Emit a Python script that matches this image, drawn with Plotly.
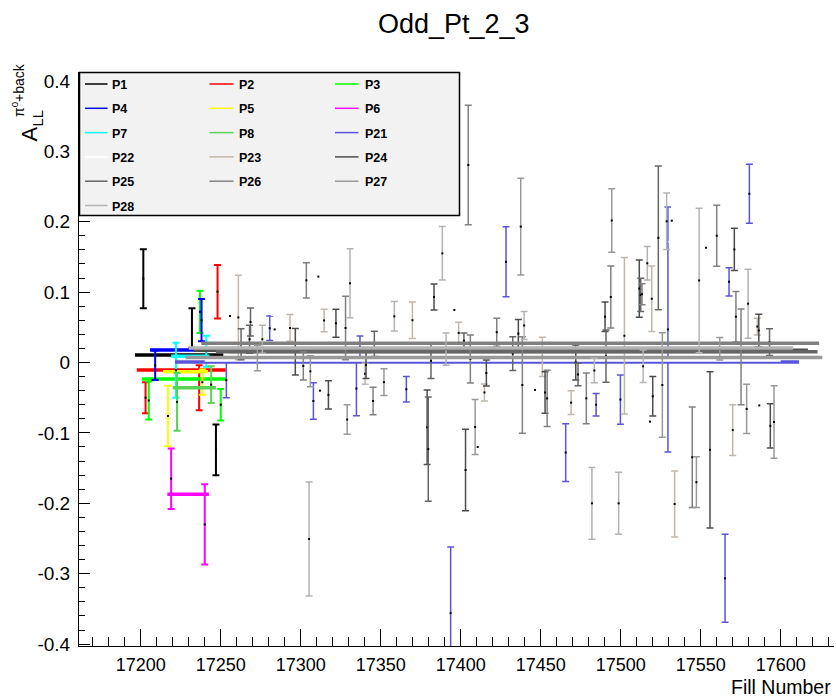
import plotly.graph_objects as go

# ---------------- data ----------------
series_names = ["P1", "P2", "P3", "P4", "P5", "P6", "P7", "P8",
                "P21", "P22", "P23", "P24", "P25", "P26", "P27", "P28"]
series_colors = ["#000000", "#ff0000", "#00ff00", "#0000ff", "#ffff00", "#ff00ff", "#00ffff", "#59d454",
                 "#5954d9", "#ffffff", "#c0b6ac", "#4d4d4d", "#666666", "#808080", "#999999", "#b3b3b3"]

P1_x = [17201.6, 17232.0, 17247.0]
P1_y = [0.119, 0.049, -0.124]
P1_e = [0.042, 0.028, 0.036]

P2_x = [17203.0, 17236.5, 17248.0]
P2_y = [-0.050, -0.036, 0.1006]
P2_e = [0.022, 0.032, 0.038]

P3_x = [17205.0, 17237.0, 17250.0]
P3_y = [-0.054, 0.072, -0.060]
P3_e = [0.027, 0.030, 0.0225]

P4_x = [17209.0, 17238.0]
P4_y = [-0.004, 0.060]
P4_e = [0.021, 0.030]

P5_x = [17217.0, 17238.5]
P5_y = [-0.076, -0.028]
P5_e = [0.043, 0.018]

P6_x = [17219.0, 17240.0]
P6_y = [-0.165, -0.230]
P6_e = [0.043, 0.057]

P7_x = [17222.0, 17241.0]
P7_y = [-0.011, 0.016]
P7_e = [0.039, 0.022]

P8_x = [17222.7, 17244.0]
P8_y = [-0.056, -0.0315]
P8_e = [0.041, 0.026]

P21_x = [17253.5, 17280.6, 17307.9, 17334.8, 17337.0, 17366.0, 17393.7, 17428.3,
         17465.6, 17484.6, 17499.8, 17529.5, 17565.2, 17567.7, 17580.4]
P21_y = [-0.025, 0.0486, -0.0547, -0.037, 0.022, -0.038, -0.356, 0.143,
         -0.128, -0.060, -0.0526, 0.047, -0.3066, 0.1146, 0.2396]
P21_e = [0.025, 0.0175, 0.026, 0.0386, 0.0156, 0.018, 0.094, 0.0497,
         0.041, 0.016, 0.035, 0.174, 0.0625, 0.020, 0.042]

P22_x = [17255.8, 17283.7, 17311.0, 17312.0, 17396.0, 17410.6, 17446.4, 17518.3,
         17531.9, 17553.3, 17586.6]
P22_y = [0.066, 0.047, 0.122, -0.040, 0.0746, -0.120, -0.039, -0.084,
         0.2014, 0.163, -0.061]
P22_e = [0.02, 0.02, 0.03, 0.02, 0.03, 0.03, 0.03, 0.03, 0.03, 0.06, 0.03]

P23_x = [17261.0, 17293.3, 17314.6, 17340.2, 17369.8, 17398.7, 17414.8, 17451.0,
         17469.0, 17502.3, 17519.4, 17533.7, 17570.0, 17585.4]
P23_y = [0.064, 0.049, 0.0597, -0.016, 0.060, 0.042, -0.0426, 0.008,
         -0.057, 0.038, 0.0905, -0.201, -0.096, 0.051]
P23_e = [0.060, 0.019, 0.016, 0.015, 0.026, 0.015, 0.012, 0.028,
         0.0168, 0.111, 0.0466, 0.047, 0.036, 0.012]

P24_x = [17296.6, 17317.3, 17322.0, 17340.8, 17379.0, 17383.3, 17403.0, 17416.0,
         17436.0, 17452.7, 17471.9, 17490.2, 17511.6, 17520.0, 17555.8, 17571.0,
         17586.3, 17593.5]
P24_y = [0.0153, -0.046, 0.0557, -0.0036, -0.092, 0.093, -0.1527, -0.015,
         0.041, -0.0426, 0.000, 0.065, 0.105, -0.048, -0.124, 0.1605,
         0.0455, -0.090]
P24_e = [0.033, 0.020, 0.020, 0.019, 0.053, 0.0185, 0.0578, 0.0185,
         0.020, 0.0296, 0.025, 0.021, 0.0407, 0.028, 0.111, 0.030,
         0.023, 0.0315]

P25_x = [17262.7, 17268.6, 17268.0, 17346.0, 17379.7, 17381.4, 17402.0, 17432.5,
         17473.3, 17490.8, 17512.5, 17523.5, 17593.0]
P25_y = [0.026, 0.0575, 0.033, 0.0265, -0.123, 0.0024, 0.031, 0.0125,
         -0.017, 0.009, 0.096, 0.177, 0.029]
P25_e = [0.022, 0.020, 0.020, 0.018, 0.074, 0.025, 0.011, 0.024,
         0.016, 0.037, 0.0237, 0.102, 0.019]

P26_x = [17301.6, 17303.5, 17328.0, 17345.2, 17404.7, 17406.0, 17422.5, 17438.5,
         17454.0, 17478.5, 17493.8, 17513.3, 17544.7, 17560.0, 17572.0, 17575.2]
P26_y = [-0.005, 0.1167, 0.049, -0.0547, 0.2805, 0.005, 0.043, -0.032,
         -0.051, -0.051, 0.093, 0.097, -0.1346, 0.180, 0.065, 0.008]
P26_e = [0.020, 0.025, 0.045, 0.0195, 0.085, 0.034, 0.020, 0.0686,
         0.040, 0.036, 0.044, 0.015, 0.0714, 0.0433, 0.036, 0.068]

P27_x = [17272.9, 17306.0, 17329.0, 17352.0, 17409.0, 17437.5, 17494.4, 17526.0,
         17547.3, 17561.9, 17578.7, 17595.8]
P27_y = [0.0064, -0.0125, -0.081, -0.028, -0.0916, 0.193, 0.2017, -0.032,
         -0.170, 0.0196, -0.066, -0.0845]
P27_e = [0.018, 0.022, 0.021, 0.019, 0.039, 0.0687, 0.045, 0.0743,
         0.036, 0.016, 0.035, 0.0516]

P28_x = [17276.0, 17305.2, 17330.8, 17358.5, 17388.5, 17390.8, 17439.6, 17483.5,
         17482.0, 17498.7, 17514.0, 17516.6, 17528.7, 17549.0, 17579.6]
P28_y = [0.033, -0.2507, 0.1125, 0.0656, 0.155, 0.019, 0.0525, -0.0114,
         -0.200, -0.200, -0.0054, 0.141, 0.2006, 0.1165, 0.0835]
P28_e = [0.020, 0.081, 0.049, 0.021, 0.038, 0.023, 0.020, 0.0173,
         0.051, 0.044, 0.023, 0.0237, 0.040, 0.1025, 0.049]

# constant (pol0) fit results per series
fit_value = [0.0107, -0.0107, -0.0234, 0.0178, -0.013, -0.187, 0.009, -0.036,
             0.0007, 0.0035, 0.0153, 0.0175, 0.0153, 0.0273, 0.0070, 0.0205]
fit_xmin = [17196.4, 17197.5, 17200.6, 17205.8, 17213.9, 17216.6, 17219.0, 17220.0,
            17221.4, 17240.0, 17255.0, 17233.0, 17247.0, 17237.8, 17228.0, 17230.0]
fit_xmax = [17251.6, 17253.1, 17253.7, 17241.0, 17242.0, 17242.6, 17243.0, 17247.0,
            17611.4, 17600.0, 17590.0, 17617.0, 17623.0, 17624.0, 17626.0, 17607.7]

x_tick_vals = [17200, 17250, 17300, 17350, 17400, 17450, 17500, 17550, 17600]
x_tick_text = ["17200", "17250", "17300", "17350", "17400", "17450", "17500", "17550", "17600"]
y_tick_vals = [-0.4, -0.3, -0.2, -0.1, 0.0, 0.1, 0.2, 0.3, 0.4]
y_tick_text = ["-0.4", "-0.3", "-0.2", "-0.1", "0", "0.1", "0.2", "0.3", "0.4"]

title_text = "Odd_Pt_2_3"
x_title = "Fill Number"

# ---------------- layout constants (pixels) ----------------
W, H = 836, 698
ML, MR, MT, MB = 79, 2, 72, 52
PW, PH = W - ML - MR, H - MT - MB
X_RANGE = [17161.4, 17633.3]
Y_RANGE = [-0.4027, 0.4126]
FONT = "Liberation Sans, Arial, Helvetica, sans-serif"


def px2paper(px, py):
    return (px - ML) / PW, (H - MB - py) / PH


series_data = {
    "P1": (P1_x, P1_y, P1_e), "P2": (P2_x, P2_y, P2_e), "P3": (P3_x, P3_y, P3_e),
    "P4": (P4_x, P4_y, P4_e), "P5": (P5_x, P5_y, P5_e), "P6": (P6_x, P6_y, P6_e),
    "P7": (P7_x, P7_y, P7_e), "P8": (P8_x, P8_y, P8_e),
    "P21": (P21_x, P21_y, P21_e), "P22": (P22_x, P22_y, P22_e), "P23": (P23_x, P23_y, P23_e),
    "P24": (P24_x, P24_y, P24_e), "P25": (P25_x, P25_y, P25_e), "P26": (P26_x, P26_y, P26_e),
    "P27": (P27_x, P27_y, P27_e), "P28": (P28_x, P28_y, P28_e),
}

fig = go.Figure()
for i, name in enumerate(series_names):
    xs, ys, es = series_data[name]
    col = series_colors[i]
    thick = 2 if i < 8 else 1.5
    fig.add_trace(go.Scatter(
        x=xs, y=ys, mode="markers", name=name, showlegend=False,
        marker=dict(size=2, color="black", symbol="square"),
        error_y=dict(type="data", array=es, visible=True, color=col,
                     thickness=thick, width=3.5),
        hoverinfo="x+y",
    ))
    fig.add_trace(go.Scatter(
        x=[fit_xmin[i], fit_xmax[i]], y=[fit_value[i], fit_value[i]],
        mode="lines", line=dict(color=col, width=3.5), showlegend=False,
        hoverinfo="skip",
    ))

shapes = []
annotations = []

# legend box (ROOT TLegend style)
lx0, ly0 = px2paper(79.5, 215.5)
lx1, ly1 = px2paper(459.5, 72.5)
shapes.append(dict(type="rect", xref="paper", yref="paper", x0=lx0, y0=ly0, x1=lx1, y1=ly1,
                   fillcolor="#f2f2f2", line=dict(color="black", width=1.5), layer="above"))
col_line_x = [(85, 107.5), (209.5, 233.5), (335, 358.5)]
col_text_x = [110, 236.5, 362.5]
row_y = [84, 108.3, 132.6, 156.9, 181.2, 205.5]
for i, name in enumerate(series_names):
    r, c = divmod(i, 3)
    py = row_y[r]
    x0, y0 = px2paper(col_line_x[c][0], py)
    x1, _ = px2paper(col_line_x[c][1], py)
    shapes.append(dict(type="line", xref="paper", yref="paper", x0=x0, x1=x1, y0=y0, y1=y0,
                       line=dict(color=series_colors[i], width=1.5), layer="above"))
    tx, ty = px2paper(col_text_x[c], py + 1)
    annotations.append(dict(xref="paper", yref="paper", x=tx, y=ty, xanchor="left", yanchor="middle",
                            text="<b>%s</b>" % name, showarrow=False,
                            font=dict(family=FONT, size=12.5, color="black")))

# x axis title (ROOT right-aligned)
fx, fy = px2paper(833, 687)
annotations.append(dict(xref="paper", yref="paper", x=fx, y=fy, xanchor="right", yanchor="middle",
                        text=x_title, showarrow=False, font=dict(family=FONT, size=19.5, color="black")))

# y axis title A_LL^{pi0+back}
ax_, ay_ = px2paper(28.5, 134)
annotations.append(dict(xref="paper", yref="paper", x=ax_, y=ay_, xanchor="center", yanchor="middle",
                        text="A", textangle=-90, showarrow=False,
                        font=dict(family=FONT, size=22, color="black")))
sx_, sy_ = px2paper(37, 118.5)
annotations.append(dict(xref="paper", yref="paper", x=sx_, y=sy_, xanchor="center", yanchor="middle",
                        text="LL", textangle=-90, showarrow=False,
                        font=dict(family=FONT, size=15, color="black")))
ux_, uy_ = px2paper(18, 90)
annotations.append(dict(xref="paper", yref="paper", x=ux_, y=uy_, xanchor="center", yanchor="middle",
                        text="π<sup>0</sup>+back", textangle=-90, showarrow=False,
                        font=dict(family=FONT, size=14, color="black")))

fig.update_layout(
    width=W, height=H,
    margin=dict(l=ML, r=MR, t=MT, b=MB, pad=0),
    paper_bgcolor="white", plot_bgcolor="white",
    showlegend=False,
    title=dict(text=title_text, x=453.8 / W, xanchor="center", xref="container",
               y=1 - 24 / H, yanchor="middle", yref="container",
               font=dict(family=FONT, size=27, color="black")),
    shapes=shapes,
    annotations=annotations,
    xaxis=dict(range=X_RANGE, tickmode="array", tickvals=x_tick_vals, ticktext=x_tick_text,
               ticks="inside", ticklen=17, tickwidth=1, tickcolor="black",
               showline=True, linecolor="black", linewidth=1, showgrid=False, zeroline=False,
               tickfont=dict(family=FONT, size=18, color="black"), ticklabelstandoff=2,
               minor=dict(dtick=10, tick0=17200, ticks="inside", ticklen=9, tickcolor="black", tickwidth=1, showgrid=False)),
    yaxis=dict(range=Y_RANGE, tickmode="array", tickvals=y_tick_vals, ticktext=y_tick_text,
               ticks="inside", ticklen=11, tickwidth=1, tickcolor="black",
               showline=True, linecolor="black", linewidth=1, showgrid=False, zeroline=False,
               tickfont=dict(family=FONT, size=19, color="black"), ticklabelstandoff=4,
               minor=dict(dtick=0.02, tick0=0, ticks="inside", ticklen=6, tickcolor="black", tickwidth=1, showgrid=False)),
)

fig.write_html("out.html")
